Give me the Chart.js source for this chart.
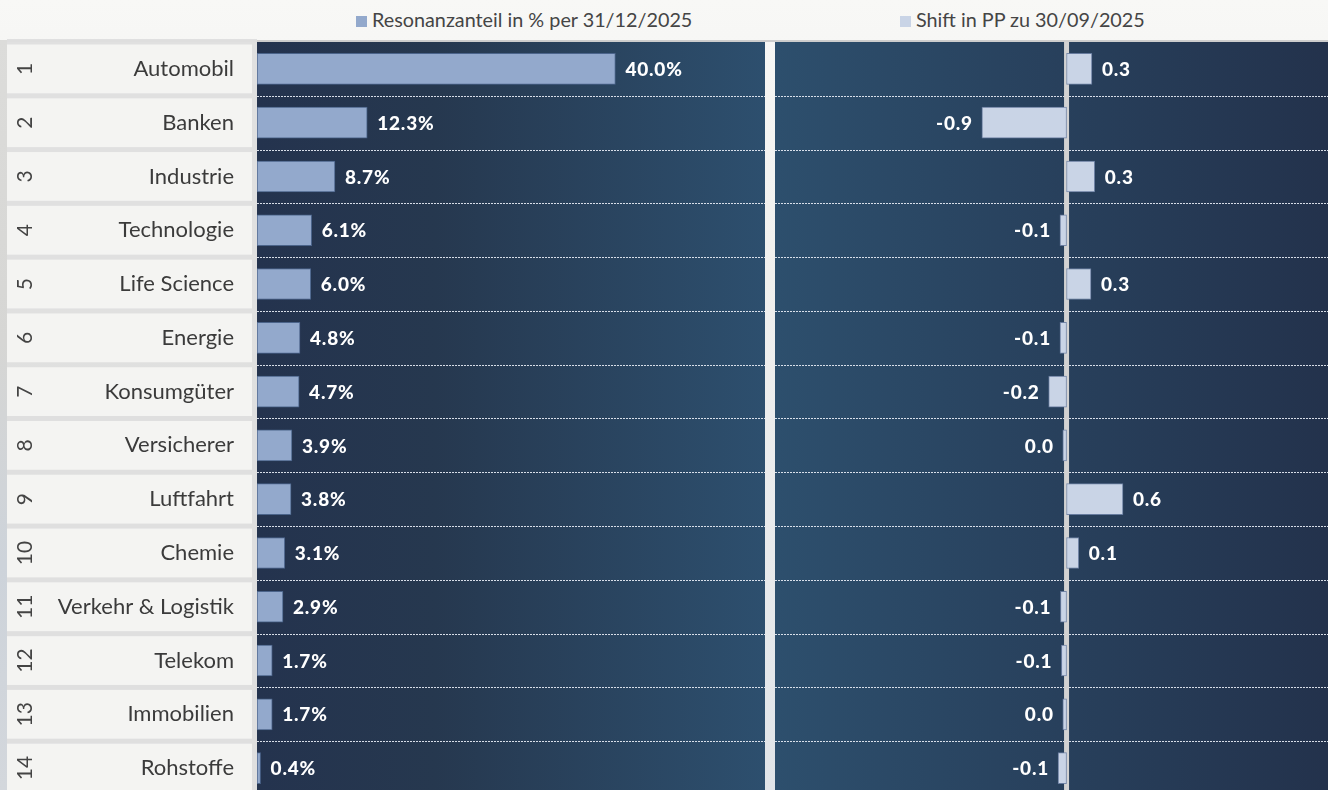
<!DOCTYPE html>
<html><head><meta charset="utf-8">
<script src="https://cdn.jsdelivr.net/npm/chart.js@4.4.1/dist/chart.umd.min.js"></script>
<style>
html,body{margin:0;padding:0;width:1328px;height:790px;overflow:hidden;}
body{position:relative;font-family:Lato,"Noto Sans",sans-serif;
 background:linear-gradient(180deg,#f8f8f6 0%,#f0f0ee 35%,#e8eaec 70%,#e0e4e8 100%);}
#strip{position:absolute;left:0;top:40px;width:7px;height:750px;
 background:linear-gradient(180deg,#dcdcda 0%,#d6d6d4 40%,#cdd3da 70%,#d3d7dc 100%);}
#topline{position:absolute;left:7px;top:40px;width:1321px;height:2px;background:#cdcdcd;}
.lg{position:absolute;top:6px;font-size:19.8px;color:#454545;white-space:nowrap;line-height:26px;}
.sw{display:inline-block;width:11px;height:11px;margin-right:5px;vertical-align:0px;}
#c1{position:absolute;left:0;top:0;}
#c2{position:absolute;left:775px;top:0;}
</style></head>
<body>
<div id="strip"></div>
<div id="topline"></div>
<div class="lg" style="left:356px"><span class="sw" style="background:#93a9cc"></span><span id="lg1"></span></div>
<div class="lg" style="left:900px"><span class="sw" style="background:#c9d4e6"></span><span id="lg2"></span></div>
<canvas id="c1" width="765" height="795"></canvas>
<canvas id="c2" width="553" height="795"></canvas>
<script>
const categories = ['Automobil','Banken','Industrie','Technologie','Life Science','Energie','Konsumgüter','Versicherer','Luftfahrt','Chemie','Verkehr & Logistik','Telekom','Immobilien','Rohstoffe'];
const ranks = ['1','2','3','4','5','6','7','8','9','10','11','12','13','14'];
const shareValues = [40.0,12.3,8.7,6.1,6.0,4.8,4.7,3.9,3.8,3.1,2.9,1.7,1.7,0.4];
const shiftValues = [0.27,-0.9,0.3,-0.07,0.26,-0.07,-0.19,-0.04,0.6,0.13,-0.065,-0.055,-0.04,-0.09];
const seriesNames = ['Resonanzanteil in % per 31/12/2025','Shift in PP zu 30/09/2025'];

document.getElementById('lg1').textContent = seriesNames[0];
document.getElementById('lg2').textContent = seriesNames[1];

const LABEL_FONT = '900 19px Lato';

function rowBounds(chart){
  const y = chart.scales.y;
  const h = (y.getPixelForValue(1) - y.getPixelForValue(0));
  return {y, h};
}
function dotted(chart){
  const {ctx, chartArea:a} = chart;
  const {y, h} = rowBounds(chart);
  ctx.save();
  ctx.strokeStyle = 'rgba(235,240,248,0.9)';
  ctx.lineWidth = 1;
  ctx.setLineDash([2,1]);
  for (let i = 1; i < categories.length; i++){
    const yy = Math.round(y.getPixelForValue(i) - h/2) + 0.5;
    ctx.beginPath(); ctx.moveTo(a.left, yy); ctx.lineTo(a.right, yy); ctx.stroke();
  }
  ctx.restore();
}
function setLabelFont(ctx){
  ctx.fillStyle = '#ffffff';
  ctx.font = LABEL_FONT;
  try { ctx.letterSpacing = '0.8px'; } catch(e) {}
  ctx.textBaseline = 'middle';
}

const leftPlugin = {
  id:'leftDeco',
  beforeDraw(chart){
    const {ctx, chartArea:a} = chart;
    const {y, h} = rowBounds(chart);
    ctx.save();
    const g = ctx.createLinearGradient(a.left,0,a.right,0);
    g.addColorStop(0,'#24334e'); g.addColorStop(0.35,'#26384f'); g.addColorStop(1,'#2d4f6e');
    ctx.fillStyle = g; ctx.fillRect(a.left, a.top, a.right-a.left, a.bottom-a.top);
    ctx.fillStyle = 'rgba(222,222,222,0.95)';
    ctx.fillRect(7, a.top-3, a.left-7, a.bottom-a.top+3);
    for (let i = 0; i < categories.length; i++){
      const c = y.getPixelForValue(i);
      ctx.fillStyle = 'rgba(245,245,243,0.96)';
      ctx.fillRect(7, c - h/2 + 2.5, 245, h - 5);
      ctx.save();
      ctx.translate(24, c);
      ctx.rotate(-Math.PI/2);
      ctx.fillStyle = '#444';
      ctx.font = '400 21px Lato';
      ctx.textAlign = 'center'; ctx.textBaseline = 'middle';
      ctx.fillText(ranks[i], 0, 1);
      ctx.restore();
    }
    ctx.restore();
  },
  beforeDatasetsDraw(chart){ dotted(chart); },
  afterDatasetsDraw(chart){
    const {ctx} = chart;
    const meta = chart.getDatasetMeta(0);
    ctx.save();
    setLabelFont(ctx);
    ctx.textAlign = 'left';
    meta.data.forEach((bar, i) => {
      ctx.fillText(shareValues[i].toFixed(1) + '%', bar.x + 10, bar.y + 1);
    });
    ctx.restore();
  }
};

const rightPlugin = {
  id:'rightDeco',
  beforeDraw(chart){
    const {ctx, chartArea:a} = chart;
    ctx.save();
    const g = ctx.createLinearGradient(a.left,0,a.right,0);
    g.addColorStop(0,'#2d4f6d'); g.addColorStop(1,'#23324c');
    ctx.fillStyle = g; ctx.fillRect(a.left, a.top, a.right-a.left, a.bottom-a.top);
    ctx.restore();
  },
  beforeDatasetsDraw(chart){
    dotted(chart);
    const {ctx, chartArea:a} = chart;
    const x0 = chart.scales.x.getPixelForValue(0);
    ctx.save();
    ctx.fillStyle = '#d2d2d2';
    ctx.fillRect(x0 - 2.5, a.top, 5, a.bottom - a.top);
    ctx.restore();
  },
  afterDatasetsDraw(chart){
    const {ctx} = chart;
    const meta = chart.getDatasetMeta(0);
    ctx.save();
    setLabelFont(ctx);
    meta.data.forEach((bar, i) => {
      const v = shiftValues[i];
      let t = v.toFixed(1); if (t === '-0.0') t = '0.0';
      if (v >= 0){ ctx.textAlign = 'left'; ctx.fillText(t, bar.x + 10, bar.y + 1); }
      else { ctx.textAlign = 'right'; ctx.fillText(t, bar.x - 9, bar.y + 1); }
    });
    ctx.restore();
  }
};

Chart.defaults.font.family = 'Lato';

new Chart(document.getElementById('c1'), {
  type:'bar',
  data:{ labels: categories, datasets:[{ label: seriesNames[0], data: shareValues,
    backgroundColor:'#93a9cc', borderColor:'rgba(80,105,145,0.9)', borderWidth:1, borderSkipped:false, barThickness:31 }]},
  options:{
    indexAxis:'y', responsive:false, animation:false,
    layout:{ padding:{ top:42, left:0, right:0, bottom:0 } },
    plugins:{ legend:{display:false}, tooltip:{enabled:false} },
    scales:{
      x:{ display:false, min:0, max:56.7 },
      y:{ grid:{display:false, drawTicks:false}, border:{display:false},
          ticks:{ autoSkip:false, padding:23, color:'#3b3b3b', font:{family:'Lato', size:22} },
          afterFit(s){ s.width = 257; s.paddingTop = 0; s.paddingBottom = 0; } }
    }
  },
  plugins:[leftPlugin]
});

new Chart(document.getElementById('c2'), {
  type:'bar',
  data:{ labels: categories, datasets:[{ label: seriesNames[1], data: shiftValues,
    backgroundColor:'#c9d4e6', borderColor:'rgba(110,130,165,0.9)', borderWidth:1, borderSkipped:false, barThickness:31 }]},
  options:{
    indexAxis:'y', responsive:false, animation:false,
    layout:{ padding:{ top:42, left:0, right:0, bottom:0 } },
    plugins:{ legend:{display:false}, tooltip:{enabled:false} },
    scales:{
      x:{ display:false, min:-3.1, max:2.78 },
      y:{ display:false }
    }
  },
  plugins:[rightPlugin]
});
</script>
</body></html>
